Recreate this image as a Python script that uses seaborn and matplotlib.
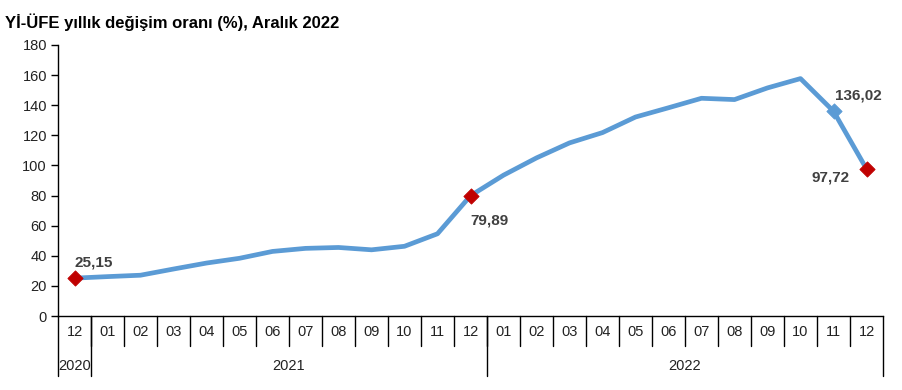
import matplotlib
matplotlib.use("Agg")
import matplotlib.pyplot as plt
import seaborn as sns
import pandas as pd
import numpy as np

months = ["12", "01", "02", "03", "04", "05", "06", "07", "08", "09", "10", "11", "12",
          "01", "02", "03", "04", "05", "06", "07", "08", "09", "10", "11", "12"]
values = [25.15, 26.16, 27.09, 31.20, 35.17, 38.33, 42.89, 44.92, 45.52, 43.96, 46.31, 54.62, 79.89,
          93.53, 105.01, 114.97, 121.82, 132.16, 138.31, 144.61, 143.75, 151.50, 157.69, 136.02, 97.72]
years = ["2020", "2021", "2022"]
year_spans = [(0, 0), (1, 12), (13, 24)]
red_idx = [0, 12, 24]
blue_idx = [23]
labels = {0: "25,15", 12: "79,89", 23: "136,02", 24: "97,72"}

df = pd.DataFrame({"i": np.arange(len(values)), "v": values})

sns.set_theme(style="white")
plt.rcParams["font.family"] = ["Liberation Sans", "DejaVu Sans"]

fig = plt.figure(figsize=(9.02, 3.9), dpi=100)
ax = fig.add_axes([58/902, 1-316/390, (883-58)/902, (316-45)/390])

line_c = "#5B9BD5"
sns.lineplot(data=df, x="i", y="v", ax=ax, color=line_c, linewidth=3.4)
sns.scatterplot(data=df.iloc[blue_idx], x="i", y="v", ax=ax, color=line_c, marker="D", s=60,
                edgecolor=line_c, zorder=5)
sns.scatterplot(data=df.iloc[red_idx], x="i", y="v", ax=ax, color="#C00000", marker="D", s=60,
                edgecolor="#C00000", zorder=6)

offsets = {0: (0, 11, "left"), 12: (0, -18, "left"), 23: (1, 11, "left"), 24: (-12, -6, "right")}
for i, t in labels.items():
    dx, dy, ha = offsets[i]
    ax.annotate(t, (i, values[i]), xytext=(dx, dy), textcoords="offset points",
                ha=ha, va="center", fontsize=11, fontweight="bold", color="#404040")

ax.set_xlim(-0.5, len(values) - 0.5)
ax.set_ylim(0, 180)
ax.set_yticks(range(0, 181, 20))
ax.set_xticks([])
ax.set_xlabel("")
ax.set_ylabel("")
for s in ["top", "right"]:
    ax.spines[s].set_visible(False)
for s in ["left", "bottom"]:
    ax.spines[s].set_color("black")
    ax.spines[s].set_linewidth(1)
ax.tick_params(axis="y", left=True, length=5, width=1, color="black", labelsize=10.5,
               labelcolor="#222222", pad=3)

tr = ax.get_xaxis_transform()
ah = (316 - 45)
y_m = -30/ah
y_y = -60/ah
for k in range(1, len(values)):
    ax.plot([k - 0.5, k - 0.5], [0, y_m], transform=tr, color="black", lw=1, clip_on=False)
for k, m in enumerate(months):
    ax.text(k, -16/ah, m, transform=tr, ha="center", va="center", fontsize=10.5, color="#222222")
for (a, b), y in zip(year_spans, years):
    ax.text((a + b) / 2, -50/ah, y, transform=tr, ha="center", va="center", fontsize=10.5, color="#222222")
for xb in [-0.5, 0.5, 12.5, 24.5]:
    ax.plot([xb, xb], [0, y_y], transform=tr, color="black", lw=1, clip_on=False)

fig.text(5/902, 1-22/390, "Yİ-ÜFE yıllık değişim oranı (%), Aralık 2022", ha="left", va="center",
         fontsize=12, fontweight="bold", color="black")

fig.savefig("out.png", dpi=100)
